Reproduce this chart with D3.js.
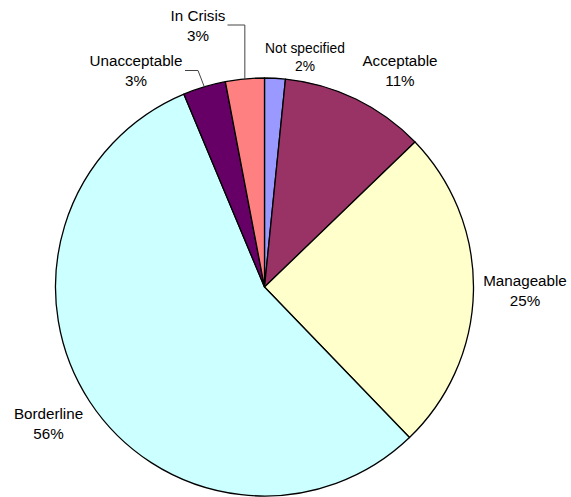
<!DOCTYPE html>
<html>
<head>
<meta charset="utf-8">
<script src="https://cdn.jsdelivr.net/npm/d3@7"></script>
<style>
  html, body { margin: 0; padding: 0; background: #fff; }
  svg { display: block; }
  text { font-family: "Liberation Sans", Arial, sans-serif; fill: #000; }
</style>
</head>
<body>
<svg id="chart" width="571" height="497"></svg>
<script>
// Survey answers, share of respondents (%), clockwise from 12 o'clock
const categories = ["Not specified", "Acceptable", "Manageable", "Borderline", "Unacceptable", "In Crisis"];
const shares     = [1.6, 11.2, 25.0, 55.9, 3.3, 3.0];
const colors     = ["#9999FF", "#993366", "#FFFFCC", "#CCFFFF", "#660066", "#FF8080"];

// Label placement (centre x, first baseline y) and leader-line elbows
const labelPos = [
  { x: 305,   y: 53,  size: 13.8 },
  { x: 400,   y: 66,  size: 15.2 },
  { x: 525,   y: 286, size: 15.2 },
  { x: 48.5,  y: 419, size: 15.2 },
  { x: 136,   y: 66,  size: 15.2, leader: { x0: 185, y: 70.5, x1: 198 } },
  { x: 198,   y: 21,  size: 15.2, leader: { x0: 227.5, y: 25, x1: null } }
];

const width = 571, height = 497;
const cx = 264.5, cy = 287, radius = 209;

const svg = d3.select("#chart");
const g = svg.append("g").attr("transform", `translate(${cx},${cy})`);

const data = categories.map((c, i) => ({ name: c, value: shares[i], color: colors[i], pos: labelPos[i] }));

const pie = d3.pie().value(d => d.value).sort(null);
const arc = d3.arc().innerRadius(0).outerRadius(radius);
const arcs = pie(data);

g.selectAll("path.slice")
  .data(arcs)
  .join("path")
  .attr("class", "slice")
  .attr("d", arc)
  .attr("fill", d => d.data.color)
  .attr("stroke", "#000")
  .attr("stroke-width", 1.3)
  .attr("stroke-linejoin", "round");

const fmt = v => d3.format(".0f")(v) + "%";

// Leader lines for the two thin slices on the upper left
arcs.forEach(a => {
  const L = a.data.pos.leader;
  if (!L) return;
  const mid = (a.startAngle + a.endAngle) / 2;
  const px = cx + radius * Math.sin(mid);
  const py = cy - radius * Math.cos(mid);
  const elbowX = L.x1 == null ? px : L.x1;
  svg.append("path")
    .attr("d", `M${L.x0},${L.y}H${elbowX}L${px},${py}`)
    .attr("fill", "none")
    .attr("stroke", "#444")
    .attr("stroke-width", 1);
});

// Category name and percentage
arcs.forEach(a => {
  const p = a.data.pos;
  const t = svg.append("text")
    .attr("text-anchor", "middle")
    .attr("font-size", p.size);
  t.append("tspan").attr("x", p.x).attr("y", p.y).text(a.data.name);
  t.append("tspan").attr("x", p.x).attr("y", p.y + p.size * 1.3).text(fmt(a.data.value));
});
</script>
</body>
</html>
